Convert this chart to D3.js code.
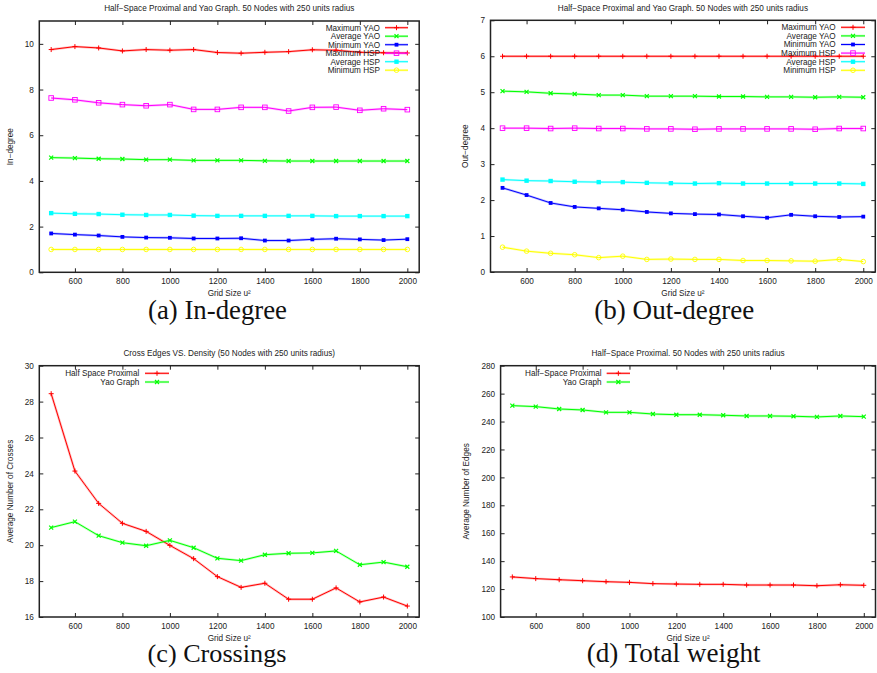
<!DOCTYPE html>
<html><head><meta charset="utf-8">
<script src="https://cdn.jsdelivr.net/npm/d3@7/dist/d3.min.js"></script>
<style>
body{margin:0;background:#fff}
svg{display:block}
text{font-family:"Liberation Sans",Arial,Helvetica,sans-serif;fill:#222}
</style>
</head><body>
<svg id="chart" width="877" height="673"></svg>
<script>
// ---------- shared ----------
const gridSizes = [500,600,700,800,900,1000,1100,1200,1300,1400,1500,1600,1700,1800,1900,2000];
const xTickValues = [600,800,1000,1200,1400,1600,1800,2000];
const xLabel = "Grid Size u\u00B2";

// ---------- (a) In-degree ----------
const inTitle = "Half\u2212Space Proximal and Yao Graph. 50 Nodes with 250 units radius";
const inYLabel = "In\u2212degree";
const inYTicks = [0,2,4,6,8,10];
const inMaxYao = [9.75,9.88,9.82,9.69,9.75,9.72,9.75,9.62,9.59,9.63,9.66,9.74,9.72,9.63,9.61,9.60];
const inAvgYao = [5.02,5.00,4.97,4.96,4.93,4.93,4.90,4.90,4.90,4.88,4.87,4.87,4.87,4.87,4.87,4.87];
const inMinYao = [1.70,1.65,1.61,1.55,1.52,1.51,1.48,1.48,1.49,1.39,1.39,1.44,1.47,1.44,1.41,1.45];
const inMaxHsp = [7.63,7.55,7.42,7.34,7.29,7.34,7.13,7.13,7.22,7.22,7.06,7.22,7.23,7.09,7.16,7.12];
const inAvgHsp = [2.59,2.56,2.55,2.52,2.51,2.51,2.48,2.47,2.47,2.47,2.47,2.47,2.46,2.46,2.46,2.46];
const inMinHsp = [1,1,1,1,1,1,1,1,1,1,1,1,1,1,1,1];

// ---------- (b) Out-degree ----------
const outTitle = "Half\u2212Space Proximal and Yao Graph. 50 Nodes with 250 units radius";
const outYLabel = "Out\u2212degree";
const outYTicks = [0,1,2,3,4,5,6,7];
const outMaxYao = [6,6,6,6,6,6,6,6,6,6,6,6,6,6,6,6];
const outAvgYao = [5.03,5.01,4.97,4.95,4.92,4.92,4.89,4.89,4.89,4.88,4.88,4.87,4.87,4.86,4.87,4.86];
const outMinYao = [2.34,2.14,1.92,1.81,1.77,1.73,1.67,1.63,1.61,1.60,1.55,1.51,1.59,1.55,1.53,1.54];
const outMaxHsp = [4.00,4.00,3.99,4.00,3.99,3.99,3.98,3.98,3.97,3.98,3.98,3.98,3.98,3.97,3.99,3.99];
const outAvgHsp = [2.57,2.54,2.53,2.51,2.50,2.50,2.48,2.47,2.46,2.47,2.46,2.46,2.46,2.46,2.46,2.45];
const outMinHsp = [0.69,0.58,0.52,0.48,0.40,0.44,0.35,0.36,0.35,0.35,0.32,0.32,0.31,0.30,0.35,0.29];

const degreeSeriesNames = ["Maximum YAO","Average YAO","Minimum YAO","Maximum HSP","Average HSP","Minimum HSP"];
const degreeColors = ["#ff0000","#00ff00","#0000ff","#ff00ff","#00ffff","#ffff00"];
const degreeMarkers = ["plus","cross","fsquare","square","fsquareBig","circle"];

// ---------- (c) Crossings ----------
const crossTitle = "Cross Edges VS. Density (50 Nodes with 250 units radius)";
const crossYLabel = "Average Number of Crosses";
const crossYTicks = [16,18,20,22,24,26,28,30];
const crossHsp = [28.44,24.13,22.33,21.22,20.77,19.99,19.25,18.25,17.65,17.88,16.99,16.99,17.62,16.84,17.11,16.61];
const crossYao = [20.98,21.31,20.53,20.14,19.97,20.27,19.86,19.27,19.14,19.47,19.55,19.57,19.68,18.91,19.06,18.80];
const crossNames = ["Half Space Proximal","Yao Graph"];

// ---------- (d) Total weight ----------
const weightTitle = "Half\u2212Space Proximal. 50 Nodes with 250 units radius";
const weightYLabel = "Average Number of Edges";
const weightYTicks = [100,120,140,160,180,200,220,240,260,280];
const weightHsp = [128.7,127.5,126.7,126.0,125.3,124.8,123.9,123.6,123.4,123.4,122.9,122.9,122.9,122.4,123.1,122.7];
const weightYao = [251.4,250.7,249.0,248.3,246.6,246.6,245.4,244.9,244.9,244.5,244.0,244.0,243.8,243.3,244.0,243.5];
const weightNames = ["Half\u2212Space Proximal","Yao Graph"];

const pairColors = ["#ff0000","#00ff00"];
const pairMarkers = ["plus","cross"];

const captions = ["(a) In-degree","(b) Out-degree","(c) Crossings","(d) Total weight"];

// ---------- drawing ----------
const svg = d3.select("#chart");
const FS = 8.2;
const plain = d3.format("d");

function drawMarker(g, type, x, y, color){
  const s = 2.5;
  if(type==="plus"){
    g.append("path").attr("d",`M${x-s},${y}H${x+s}M${x},${y-s}V${y+s}`).attr("stroke",color).attr("stroke-width",1).attr("fill","none");
  } else if(type==="cross"){
    const t=2;
    g.append("path").attr("d",`M${x-t},${y-t}L${x+t},${y+t}M${x-t},${y+t}L${x+t},${y-t}`).attr("stroke",color).attr("stroke-width",1.2).attr("fill","none");
  } else if(type==="fsquare"){
    g.append("rect").attr("x",x-1.9).attr("y",y-1.9).attr("width",3.8).attr("height",3.8).attr("fill",color);
  } else if(type==="fsquareBig"){
    g.append("rect").attr("x",x-2.2).attr("y",y-2.2).attr("width",4.4).attr("height",4.4).attr("fill",color);
  } else if(type==="square"){
    g.append("rect").attr("x",x-2.3).attr("y",y-2.3).attr("width",4.6).attr("height",4.6).attr("fill","none").attr("stroke",color).attr("stroke-width",0.9);
  } else if(type==="circle"){
    g.append("circle").attr("cx",x).attr("cy",y).attr("r",2.3).attr("fill","none").attr("stroke",color).attr("stroke-width",0.9);
  }
}

function drawPanel(p){
  const x = d3.scaleLinear().domain([450,2050]).range([p.left,p.right]);
  const y = d3.scaleLinear().domain(p.yDomain).range([p.bottom,p.top]);
  const g = svg.append("g");

  // axes with inward ticks
  const axB = g.append("g").attr("transform",`translate(0,${p.bottom})`)
    .call(d3.axisBottom(x).tickValues(xTickValues).tickFormat(plain).tickSize(-4).tickSizeOuter(0).tickPadding(6));
  const axT = g.append("g").attr("transform",`translate(0,${p.top})`)
    .call(d3.axisTop(x).tickValues(xTickValues).tickSize(-4).tickSizeOuter(0).tickFormat(""));
  const axL = g.append("g").attr("transform",`translate(${p.left},0)`)
    .call(d3.axisLeft(y).tickValues(p.yTicks).tickFormat(plain).tickSize(-4).tickSizeOuter(0).tickPadding(5.5));
  const axR = g.append("g").attr("transform",`translate(${p.right},0)`)
    .call(d3.axisRight(y).tickValues(p.yTicks).tickSize(-4).tickSizeOuter(0).tickFormat(""));
  [axB,axT,axL,axR].forEach(a=>{
    a.attr("font-family",null).attr("font-size",null).style("color","#222");
    a.select(".domain").remove();
    a.selectAll("text").style("font-size",FS+"px");
  });

  // frame
  g.append("rect").attr("x",p.left).attr("y",p.top).attr("width",p.right-p.left).attr("height",p.bottom-p.top)
    .attr("fill","none").attr("stroke","#222").attr("stroke-width",1.5);

  // title and labels
  g.append("text").attr("x",(p.left+p.right)/2).attr("y",p.titleY).attr("dy","0.35em")
    .attr("text-anchor","middle").style("font-size",FS+"px").text(p.title);
  g.append("text").attr("x",(p.left+p.right)/2).attr("y",p.xLabelY).attr("dy","0.35em")
    .attr("text-anchor","middle").style("font-size",FS+"px").text(xLabel);
  g.append("text").attr("transform",`translate(${p.yLabelX},${(p.top+p.bottom)/2}) rotate(-90)`).attr("dy","0.35em")
    .attr("text-anchor","middle").style("font-size",FS+"px").text(p.yLabel);

  // series
  const line = d3.line().x((d,i)=>x(gridSizes[i])).y(d=>y(d));
  p.series.forEach(s=>{
    const sg = g.append("g");
    sg.append("path").datum(s.values).attr("d",line).attr("fill","none").attr("stroke",s.color)
      .attr("stroke-width",2.4).attr("stroke-opacity",0.25).attr("stroke-linejoin","round");
    sg.append("path").datum(s.values).attr("d",line).attr("fill","none").attr("stroke",s.color)
      .attr("stroke-width",1).attr("stroke-linejoin","round");
    s.values.forEach((v,i)=>drawMarker(sg,s.marker,x(gridSizes[i]),y(v),s.color));
  });

  // legend
  p.series.forEach((s,i)=>{
    const ly = p.legY + i*p.legStep;
    g.append("text").attr("x",p.legTextEnd).attr("y",ly).attr("dy","0.35em").attr("text-anchor","end")
      .style("font-size",FS+"px").text(s.name);
    g.append("line").attr("x1",p.legX1).attr("x2",p.legX2).attr("y1",ly).attr("y2",ly)
      .attr("stroke",s.color).attr("stroke-width",2.4).attr("stroke-opacity",0.25);
    g.append("line").attr("x1",p.legX1).attr("x2",p.legX2).attr("y1",ly).attr("y2",ly)
      .attr("stroke",s.color).attr("stroke-width",1);
    drawMarker(g,s.marker,(p.legX1+p.legX2)/2,ly,s.color);
  });

  // caption
  const cap = g.append("text").attr("x",p.capX).attr("y",p.capY).attr("text-anchor","middle")
    .style("font-family",'"Liberation Serif","Times New Roman",serif').style("font-size","22px").style("fill","#111")
    .text(p.caption);
  const w = cap.node().getComputedTextLength();
  cap.style("font-size",(22*p.capW/w)+"px");
}

function makeSeries(names, colors, markers, arrays){
  return arrays.map((v,i)=>({name:names[i],color:colors[i],marker:markers[i],values:v}));
}

drawPanel({left:39.3,right:419.2,top:21,bottom:272.3,yDomain:[0,11],yTicks:inYTicks,
  title:inTitle,titleY:8.3,xLabelY:293,yLabel:inYLabel,yLabelX:10,
  series:makeSeries(degreeSeriesNames,degreeColors,degreeMarkers,[inMaxYao,inAvgYao,inMinYao,inMaxHsp,inAvgHsp,inMinHsp]),
  legTextEnd:380,legX1:385,legX2:408,legY:27.7,legStep:8.5,
  caption:captions[0],capX:217.5,capY:319.3,capW:139});

drawPanel({left:490.5,right:875.3,top:20.3,bottom:272,yDomain:[0,7],yTicks:outYTicks,
  title:outTitle,titleY:8.3,xLabelY:293.3,yLabel:outYLabel,yLabelX:465,
  series:makeSeries(degreeSeriesNames,degreeColors,degreeMarkers,[outMaxYao,outAvgYao,outMinYao,outMaxHsp,outAvgHsp,outMinHsp]),
  legTextEnd:835.7,legX1:841,legX2:865,legY:27.3,legStep:8.6,
  caption:captions[1],capX:674.3,capY:319,capW:160});

drawPanel({left:39.3,right:419.2,top:365.7,bottom:617,yDomain:[16,30],yTicks:crossYTicks,
  title:crossTitle,titleY:353.3,xLabelY:638,yLabel:crossYLabel,yLabelX:10,
  series:makeSeries(crossNames,pairColors,pairMarkers,[crossHsp,crossYao]),
  legTextEnd:139.3,legX1:145,legX2:169,legY:373.3,legStep:8.7,
  caption:captions[2],capX:217,capY:662,capW:139});

drawPanel({left:500.6,right:875.5,top:365.7,bottom:617,yDomain:[100,280],yTicks:weightYTicks,
  title:weightTitle,titleY:353.3,xLabelY:638,yLabel:weightYLabel,yLabelX:466,
  series:makeSeries(weightNames,pairColors,pairMarkers,[weightHsp,weightYao]),
  legTextEnd:601.7,legX1:606.7,legX2:630,legY:373.3,legStep:8.7,
  caption:captions[3],capX:673.7,capY:662,capW:174});
</script>
</body></html>
